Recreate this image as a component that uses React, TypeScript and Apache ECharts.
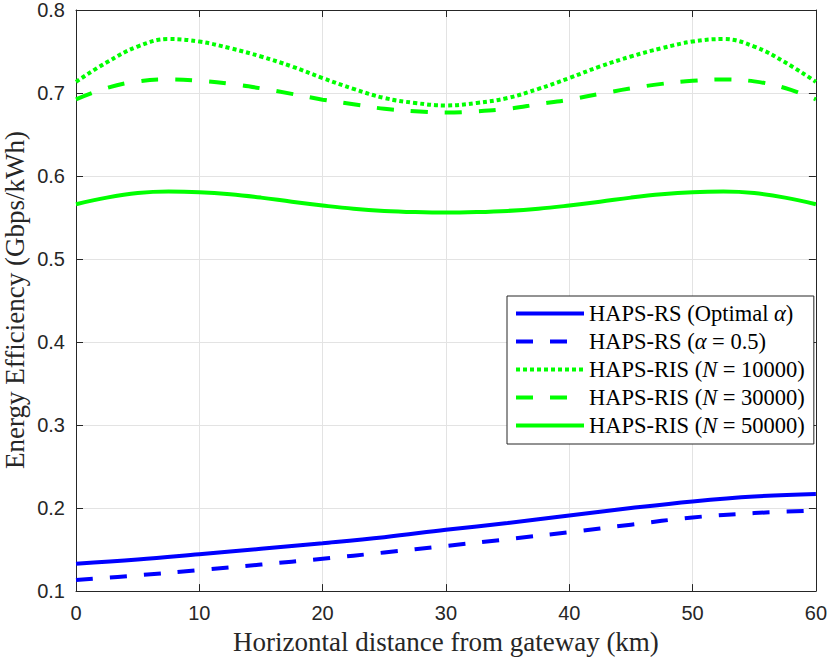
import React, { useEffect, useRef } from "react";
import * as echarts from "echarts";

const xGreen = [0, 2.5, 5, 7.5, 10, 12.5, 15, 17.5, 20, 22.5, 25, 27.5, 30, 32.5, 35, 37.5, 40, 42.5, 45, 47.5, 50, 52.5, 55, 57.5, 60];
const risN10000 = [0.7135, 0.737, 0.756, 0.765, 0.762, 0.754, 0.744, 0.732, 0.718, 0.705, 0.694, 0.688, 0.685, 0.688, 0.694, 0.705, 0.718, 0.732, 0.744, 0.754, 0.762, 0.765, 0.756, 0.737, 0.7135];
const risN30000 = [0.6924, 0.706, 0.714, 0.7163, 0.7147, 0.711, 0.7056, 0.699, 0.692, 0.6865, 0.681, 0.678, 0.6765, 0.678, 0.681, 0.6865, 0.692, 0.699, 0.7056, 0.711, 0.7147, 0.7163, 0.714, 0.706, 0.6924];
const risN50000 = [0.566, 0.574, 0.5795, 0.5813, 0.5805, 0.578, 0.574, 0.569, 0.5645, 0.5606, 0.558, 0.5566, 0.556, 0.5566, 0.558, 0.5606, 0.5645, 0.569, 0.574, 0.578, 0.5805, 0.5813, 0.5795, 0.574, 0.566];

const xBlue = [0, 5, 10, 15, 20, 25, 30, 35, 40, 45, 50, 55, 60];
const rsOptimal = [0.133, 0.138, 0.1444, 0.151, 0.1577, 0.165, 0.1738, 0.182, 0.191, 0.2, 0.208, 0.214, 0.217];
const rsHalf = [0.1133, 0.119, 0.1254, 0.132, 0.139, 0.1465, 0.1544, 0.1625, 0.171, 0.18, 0.1887, 0.194, 0.197];

const xTicks = [0, 10, 20, 30, 40, 50, 60];
const yTicks = [0.1, 0.2, 0.3, 0.4, 0.5, 0.6, 0.7, 0.8];

const seriesNames = ["rsOpt", "rsHalf", "ris1", "ris3", "ris5"];
const legendLabels: Record<string, string> = {
  rsOpt: "HAPS-RS (Optimal {i|α})",
  rsHalf: "HAPS-RS ({i|α} = 0.5)",
  ris1: "HAPS-RIS ({i|N} = 10000)",
  ris3: "HAPS-RIS ({i|N} = 30000)",
  ris5: "HAPS-RIS ({i|N} = 50000)",
};

const pairs = (xs: number[], ys: number[]) => xs.map((x, i) => [x, ys[i]]);

export default function App() {
  const ref = useRef<HTMLDivElement>(null);
  useEffect(() => {
    document.body.style.margin = "0";
    if (!ref.current) return;
    const chart = echarts.init(ref.current, undefined, { renderer: "svg" });
    const axisColor = "#262626";
    const gridColor = "#e3e3e3";
    const tickFont = "Liberation Sans";
    const serif = "Liberation Serif";
    const mkLine = (name: string, data: number[][], color: string, type: any) => ({
      name,
      type: "line",
      data,
      smooth: 0.4,
      symbol: "none",
      showSymbol: false,
      lineStyle: { color, width: 4, type, cap: "butt" },
      itemStyle: { color, opacity: 0 },
      z: 3,
    });
    chart.setOption({
      animation: false,
      backgroundColor: "#ffffff",
      grid: { left: 76, right: 13, top: 7, bottom: 68, containLabel: false },
      xAxis: [
        {
          type: "value",
          min: 0,
          max: 60,
          interval: 10,
          position: "bottom",
          axisLine: { show: true, onZero: false, lineStyle: { color: axisColor, width: 1 } },
          axisTick: { show: true, inside: true, length: 7, lineStyle: { color: axisColor } },
          axisLabel: {
            fontFamily: tickFont,
            fontSize: 20,
            color: axisColor,
            margin: 12,
            customValues: xTicks,
          },
          splitLine: { show: true, lineStyle: { color: gridColor, width: 1 } },
          name: "Horizontal distance from gateway (km)",
          nameLocation: "middle",
          nameGap: 35,
          nameTextStyle: { fontFamily: serif, fontSize: 27, color: axisColor },
        },
        {
          type: "value",
          min: 0,
          max: 60,
          interval: 10,
          position: "top",
          axisLine: { show: true, onZero: false, lineStyle: { color: axisColor, width: 1 } },
          axisTick: { show: true, inside: true, length: 7, lineStyle: { color: axisColor } },
          axisLabel: { show: false },
          splitLine: { show: false },
        },
      ],
      yAxis: [
        {
          type: "value",
          min: 0.1,
          max: 0.8,
          interval: 0.1,
          position: "left",
          axisLine: { show: true, onZero: false, lineStyle: { color: axisColor, width: 1 } },
          axisTick: { show: true, inside: true, length: 7, lineStyle: { color: axisColor } },
          axisLabel: {
            fontFamily: tickFont,
            fontSize: 20,
            color: axisColor,
            margin: 11,
            formatter: (v: number) => {
              const r = Math.round(v * 10) / 10;
              return yTicks.some((t) => Math.abs(t - r) < 1e-6) ? r.toFixed(1) : "";
            },
          },
          splitLine: { show: true, lineStyle: { color: gridColor, width: 1 } },
        },
        {
          type: "value",
          min: 0.1,
          max: 0.8,
          interval: 0.1,
          position: "right",
          axisLine: { show: true, onZero: false, lineStyle: { color: axisColor, width: 1 } },
          axisTick: { show: true, inside: true, length: 7, lineStyle: { color: axisColor } },
          axisLabel: { show: false },
          splitLine: { show: false },
        },
      ],
      legend: {
        data: seriesNames,
        orient: "vertical",
        left: 507,
        top: 296,
        padding: [6, 9, 7, 7],
        itemWidth: 68,
        itemHeight: 20,
        itemGap: 5,
        backgroundColor: "#ffffff",
        borderColor: axisColor,
        borderWidth: 1,
        borderRadius: 0,
        selectedMode: false,
        itemStyle: { opacity: 0 },
        lineStyle: { width: 4 },
        formatter: (name: string) => legendLabels[name],
        textStyle: {
          fontFamily: serif,
          fontSize: 22.5,
          color: "#000000",
          lineHeight: 20,
          rich: {
            i: { fontFamily: serif, fontStyle: "italic", fontSize: 22.5, color: "#000000", lineHeight: 20 },
          },
        },
      },
      graphic: [
        {
          type: "text",
          x: 15,
          y: 300,
          rotation: Math.PI / 2,
          style: {
            text: "Energy Efficiency (Gbps/kWh)",
            font: `27px "${serif}"`,
            fill: axisColor,
            textAlign: "center",
            textVerticalAlign: "middle",
          },
        },
      ],
      series: [
        mkLine("rsOpt", pairs(xBlue, rsOptimal), "#0000ff", "solid"),
        mkLine("rsHalf", pairs(xBlue, rsHalf), "#0000ff", [17, 17]),
        mkLine("ris1", pairs(xGreen, risN10000), "#00ff00", [4, 3]),
        mkLine("ris3", pairs(xGreen, risN30000), "#00ff00", [17, 17]),
        mkLine("ris5", pairs(xGreen, risN50000), "#00ff00", "solid"),
      ],
    });
    return () => chart.dispose();
  }, []);
  return (
    <div
      ref={ref}
      style={{ width: 830, height: 660, position: "absolute", left: 0, top: 0 }}
    />
  );
}
